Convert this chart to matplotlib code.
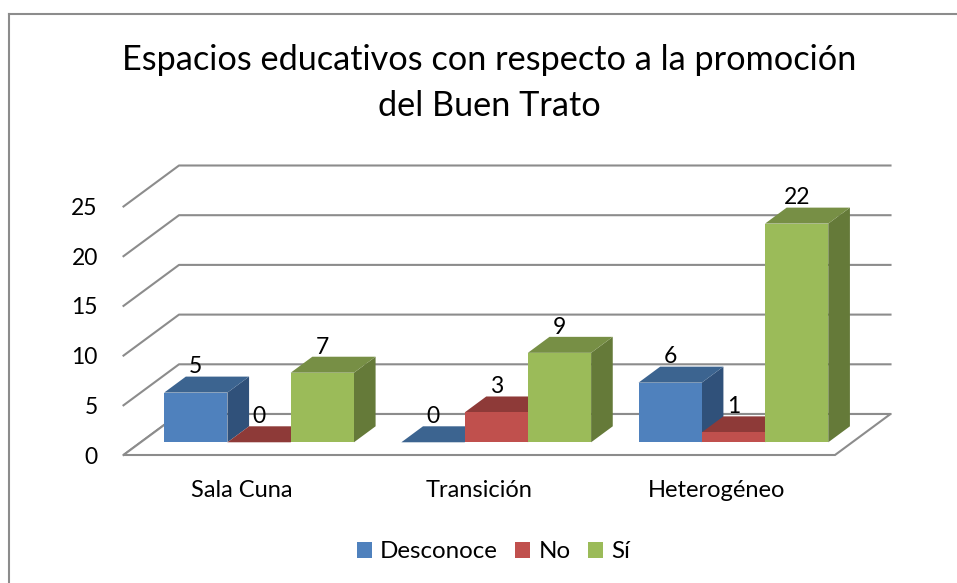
import numpy as np
import matplotlib

matplotlib.use("Agg")

import matplotlib.pyplot as plt
from matplotlib.lines import Line2D
from matplotlib.patches import Patch, Polygon

plt.rcParams["font.family"] = ["Lato", "DejaVu Sans"]

categories = ["Sala Cuna", "Transición", "Heterogéneo"]
desconoce = [5, 0, 6]
no = [0, 3, 1]
si = [7, 9, 22]
series_names = ["Desconoce", "No", "Sí"]
y_ticks = [0, 5, 10, 15, 20, 25]

front_colors = ["#4F81BD", "#C0504D", "#9BBB59"]
top_colors = ["#3C6490", "#8E3A38", "#778F45"]
side_colors = ["#30517A", "#7A2F2D", "#657A39"]
grid_color = "#8C8C8C"

W, H = 957, 583
fig = plt.figure(figsize=(W / 100, H / 100), dpi=100)

# front plane of the box in pixels
left, right, base, top = 123.5, 835.0, 455.0, 206.5
ax = fig.add_axes([left / W, 1 - base / H, (right - left) / W, (base - top) / H])
ax.set_xlim(0, 3)
ax.set_ylim(0, 25)
ax.patch.set_visible(False)
for s in ax.spines.values():
    s.set_visible(False)

# depth of the box, in data units
dx = 55.5 / (right - left) * 3
dy = 41.0 / (base - top) * 25


def proj(x, y, d):
    return (x + d * dx, y + d * dy)


# walls and floor
for v in y_ticks:
    pts = [proj(0, v, 0), proj(0, v, 1), proj(3, v, 1)]
    ax.plot(*zip(*pts), color=grid_color, lw=1.5, clip_on=False, zorder=1)
floor = [proj(0, 0, 0), proj(3, 0, 0), proj(3, 0, 1), proj(0, 0, 1)]
ax.add_patch(Polygon(floor, closed=True, facecolor="white", edgecolor=grid_color, lw=1.5, clip_on=False, zorder=2))

# bars
bar_w = 0.2667
gap = 0.099
d0, d1 = 0.31, 0.70
x_pos = np.arange(len(categories))
z = 3
for i in x_pos:
    for j, vals in enumerate([desconoce, no, si]):
        v = vals[i]
        x0 = i + gap + j * bar_w
        x1 = x0 + bar_w
        fx0 = proj(x0, 0, d0)[0]
        fy0 = proj(x0, 0, d0)[1]
        # side, top, front from the back forward
        side = [proj(x1, 0, d0), proj(x1, 0, d1), proj(x1, v, d1), proj(x1, v, d0)]
        roof = [proj(x0, v, d0), proj(x1, v, d0), proj(x1, v, d1), proj(x0, v, d1)]
        ax.add_patch(Polygon(side, closed=True, fc=side_colors[j], ec="none", clip_on=False, zorder=z))
        ax.add_patch(Polygon(roof, closed=True, fc=top_colors[j], ec="none", clip_on=False, zorder=z))
        ax.bar(fx0, v, bar_w, bottom=fy0, align="edge", color=front_colors[j], clip_on=False, zorder=z + 0.5)
        ax.annotate(str(v), (fx0 + bar_w / 2, fy0 + v), xytext=(0, 18.5), textcoords="offset points",
                    ha="center", va="center", fontsize=16.5, color="black", zorder=20, annotation_clip=False)
        z += 1

ax.set_xticks(x_pos + 0.5)
ax.set_xticklabels(categories, fontsize=17)
ax.set_yticks(y_ticks)
ax.set_yticklabels([str(v) for v in y_ticks], fontsize=16.5)
ax.tick_params(axis="both", length=0)
ax.tick_params(axis="x", pad=18)
ax.tick_params(axis="y", pad=18.5)

fig.text(489.5 / W, 1 - 60 / H, "Espacios educativos con respecto a la promoción", ha="center", va="center", fontsize=24.7)
fig.text(489.5 / W, 1 - 106 / H, "del Buen Trato", ha="center", va="center", fontsize=24.7)

handles = [Patch(facecolor=c, label=n) for c, n in zip(front_colors, series_names)]
fig.legend(handles=handles, loc="center", bbox_to_anchor=(493.5 / W, 1 - 552 / H), ncol=3, frameon=False,
           fontsize=17.4, handlelength=0.62, handleheight=0.62, handletextpad=0.33, columnspacing=0.74)

# chart frame, only top and left reach the picture
fig.add_artist(Line2D([8.5 / W, 1], [1 - 14 / H, 1 - 14 / H], transform=fig.transFigure, color=grid_color, lw=1.5))
fig.add_artist(Line2D([8.5 / W, 8.5 / W], [1 - 14 / H, 0], transform=fig.transFigure, color=grid_color, lw=1.5))

fig.savefig("out.png", dpi=100)
plt.close()
